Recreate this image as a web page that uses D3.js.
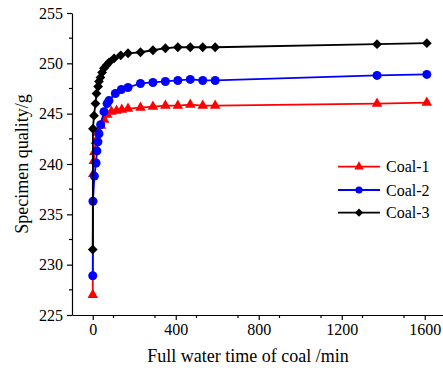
<!DOCTYPE html>
<html><head><meta charset="utf-8">
<script src="https://cdn.jsdelivr.net/npm/d3@7"></script>
<style>body{margin:0;background:#fff;} svg{display:block;}</style>
</head><body>
<svg id="c" width="443" height="368"></svg>
<script>
const seriesNames = ["Coal-1", "Coal-2", "Coal-3"];
const colors = ["#ff0000", "#0000ff", "#000000"];
const coal1Time = [0, 2, 5, 8, 15, 25, 40, 55, 70, 90, 115, 140, 170, 230, 290, 350, 410, 470, 530, 590, 1370, 1610];
const coal1Mass = [227.0, 239.0, 240.3, 241.2, 242.3, 243.1, 243.8, 244.4, 244.9, 245.2, 245.3, 245.4, 245.5, 245.6, 245.7, 245.8, 245.8, 245.9, 245.8, 245.8, 246.0, 246.1];
const coal2Time = [0, 1, 8, 16, 20, 25, 30, 38, 54, 69, 78, 109, 138, 170, 230, 290, 350, 410, 470, 530, 590, 1370, 1610];
const coal2Mass = [228.9, 236.3, 238.8, 240.1, 241.3, 242.2, 243.0, 243.9, 245.2, 246.0, 246.3, 247.0, 247.4, 247.6, 248.0, 248.1, 248.2, 248.3, 248.4, 248.3, 248.3, 248.8, 248.9];
const coal3Time = [0, 1, 6, 13, 18, 26, 30, 37, 45, 54, 66, 79, 103, 135, 170, 230, 290, 350, 410, 470, 530, 590, 1370, 1610];
const coal3Mass = [231.5, 243.5, 244.8, 246.0, 247.0, 247.7, 248.2, 248.6, 249.1, 249.5, 249.8, 250.1, 250.5, 250.8, 251.0, 251.1, 251.3, 251.5, 251.6, 251.6, 251.6, 251.6, 251.9, 252.0];
const xTicks = [0, 400, 800, 1200, 1600];
const yTicks = [225, 230, 235, 240, 245, 250, 255];
const xLabel = "Full water time of coal /min";
const yLabel = "Specimen quality/g";

const series = [
  {name: seriesNames[0], t: coal1Time, v: coal1Mass, color: colors[0], shape: "tri"},
  {name: seriesNames[1], t: coal2Time, v: coal2Mass, color: colors[1], shape: "circ"},
  {name: seriesNames[2], t: coal3Time, v: coal3Mass, color: colors[2], shape: "dia"}
];

const svg = d3.select("#c");
const font = "'Liberation Serif', 'Times New Roman', serif";
const x = d3.scaleLinear().domain([-100, 1700]).range([72, 445.5]);
const y = d3.scaleLinear().domain([225, 255]).range([315, 13]);

const xMinor = d3.range(-100, 1701, 200).filter(d => d % 400 !== 0 && d > -100);
const yMinor = d3.range(227.5, 255, 5);

const gx = svg.append("g").attr("transform", "translate(0,315)");
gx.call(d3.axisBottom(x).tickValues(xTicks).tickFormat(d3.format("d")).tickSize(5).tickSizeOuter(0).tickPadding(4));
gx.append("g").selectAll("line").data(xMinor).join("line")
  .attr("x1", d => x(d)).attr("x2", d => x(d)).attr("y1", 0).attr("y2", 3)
  .attr("stroke", "#000").attr("stroke-width", 1.2);

const gy = svg.append("g").attr("transform", "translate(72,0)");
gy.call(d3.axisLeft(y).tickValues(yTicks).tickFormat(d3.format("d")).tickSize(5).tickSizeOuter(0).tickPadding(4));
gy.append("g").selectAll("line").data(yMinor).join("line")
  .attr("y1", d => y(d)).attr("y2", d => y(d)).attr("x1", 0).attr("x2", -3)
  .attr("stroke", "#000").attr("stroke-width", 1.2);

[gx, gy].forEach(g => {
  g.select(".domain").attr("stroke", "#000").attr("stroke-width", 1.2);
  g.selectAll(".tick line").attr("stroke", "#000").attr("stroke-width", 1.2);
  g.selectAll(".tick text").attr("font-family", font).attr("font-size", 16).attr("fill", "#000");
});

function marker(sel, shape, color) {
  if (shape === "circ") {
    sel.append("circle").attr("r", 4.5).attr("fill", color);
  } else if (shape === "tri") {
    sel.append("path").attr("d", d3.symbol(d3.symbolTriangle, 48)()).attr("fill", color);
  } else {
    sel.append("path").attr("d", d3.symbol(d3.symbolSquare, 48)()).attr("transform", "rotate(45)").attr("fill", color);
  }
}

const line = d3.line().x(d => x(d[0])).y(d => y(d[1]));
series.forEach(s => {
  const pts = s.t.map((t, i) => [t, s.v[i]]);
  svg.append("path").datum(pts).attr("d", line)
    .attr("fill", "none").attr("stroke", s.color).attr("stroke-width", 1.8);
  svg.append("g").selectAll("g").data(pts).join("g")
    .attr("transform", d => `translate(${x(d[0])},${y(d[1])})`)
    .each(function() { marker(d3.select(this), s.shape, s.color); });
});

const legY = [166.7, 190, 212.7];
series.forEach((s, i) => {
  const g = svg.append("g").attr("transform", `translate(0,${legY[i]})`);
  g.append("line").attr("x1", 338).attr("x2", 380).attr("y1", 0).attr("y2", 0)
    .attr("stroke", s.color).attr("stroke-width", 1.8);
  const m = g.append("g").attr("transform", "translate(359,0)");
  if (s.shape === "circ") m.append("circle").attr("r", 3.6).attr("fill", s.color);
  else if (s.shape === "tri") m.append("path").attr("d", d3.symbol(d3.symbolTriangle, 38)()).attr("fill", s.color);
  else m.append("path").attr("d", d3.symbol(d3.symbolSquare, 34)()).attr("transform", "rotate(45)").attr("fill", s.color);
  g.append("text").attr("x", 386).attr("y", 5.5).text(s.name)
    .attr("font-family", font).attr("font-size", 16).attr("fill", "#000");
});

svg.append("text").attr("x", 248).attr("y", 362).attr("text-anchor", "middle")
  .attr("font-family", font).attr("font-size", 18).text(xLabel);
svg.append("text").attr("transform", "translate(28,164) rotate(-90)").attr("text-anchor", "middle")
  .attr("font-family", font).attr("font-size", 18).text(yLabel);
</script>
</body></html>
